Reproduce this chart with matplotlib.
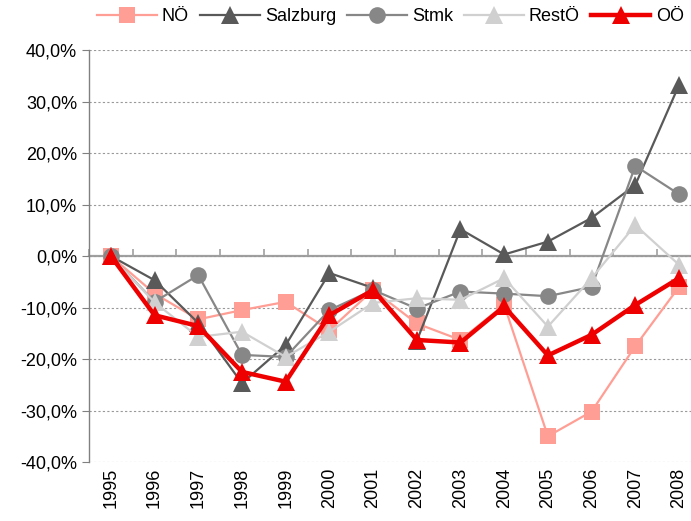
import matplotlib
matplotlib.use("Agg")
import matplotlib.pyplot as plt
from matplotlib.ticker import FuncFormatter

plt.rcParams['font.family'] = ['Liberation Sans', 'DejaVu Sans']

years = ['1995', '1996', '1997', '1998', '1999', '2000', '2001',
         '2002', '2003', '2004', '2005', '2006', '2007', '2008']
noe = [0.0, -7.3, -12.3, -10.5, -8.9, -14.4, -6.6, -13.1, -16.3, -9.5, -35.0, -30.2, -17.5, -6.0]
salzburg = [0.0, -4.7, -13.0, -24.7, -17.3, -3.3, -6.2, -16.5, 5.2, 0.3, 2.8, 7.4, 13.8, 33.2]
stmk = [0.0, -8.9, -3.7, -19.2, -19.6, -10.5, -6.6, -10.2, -6.9, -7.3, -7.8, -6.0, 17.5, 12.0]
restoe = [0.0, -9.0, -15.7, -14.7, -19.6, -14.7, -9.1, -8.2, -8.5, -4.3, -13.7, -4.3, 6.0, -1.7]
ooe = [0.0, -11.5, -13.6, -22.5, -24.4, -11.5, -6.6, -16.3, -16.8, -9.8, -19.3, -15.3, -9.5, -4.3]

fig = plt.figure(figsize=(6.91, 5.21), dpi=100)
ax = fig.add_axes([0.1288, 0.1132, 1.0 - 0.1288, 0.904 - 0.1132])

x = list(range(len(years)))
series = [
    ('NÖ', noe, '#FF9E94', 's', 12, 1.6, 2),
    ('Salzburg', salzburg, '#595959', '^', 13.5, 1.6, 3),
    ('Stmk', stmk, '#878787', 'o', 12, 1.6, 4),
    ('RestÖ', restoe, '#D0D0D0', '^', 13.5, 1.6, 5),
    ('OÖ', ooe, '#EE0000', '^', 13.5, 3.2, 6),
]
for name, vals, col, mk, ms, lw, z in series:
    ax.plot(x, vals, color=col, marker=mk, markersize=ms, linewidth=lw,
            markeredgewidth=0, label=name, zorder=z, clip_on=False)

ax.set_ylim(-40, 40)
ax.set_xlim(-0.5, 13 + 12 / 43.7)
ax.set_yticks(range(-40, 41, 10))
ax.yaxis.set_major_formatter(FuncFormatter(lambda v, p: f"{v:.1f}%".replace('.', ',')))
ax.yaxis.grid(True, linestyle=(0, (2, 2)), color='#999999', linewidth=0.8)
ax.set_axisbelow(True)

for s in ['top', 'right', 'bottom']:
    ax.spines[s].set_visible(False)
ax.spines['left'].set_color('#808080')
ax.spines['left'].set_linewidth(1.0)
ax.tick_params(axis='y', direction='out', length=5, color='#808080', labelsize=13)

ax.set_xticks(x)
ax.set_xticklabels(years, rotation=90, fontsize=13)
ax.tick_params(axis='x', length=0, pad=4)

# zero axis with tick marks at category boundaries
sec = ax.secondary_xaxis(0.5)
for sp in sec.spines.values():
    sp.set_color('#A0A0A0')
    sp.set_linewidth(1.6)
sec.set_xticks([i + 0.5 for i in range(-1, len(years))])
sec.set_xticklabels([])
sec.tick_params(axis='x', direction='out', length=5, color='#A0A0A0', width=1.2)

leg = fig.legend(loc='upper center', bbox_to_anchor=(0.565, 1.015), ncol=5,
                 frameon=False, fontsize=13, handlelength=3.3,
                 handletextpad=0.3, columnspacing=0.6)

fig.savefig('out.png', dpi=100)
